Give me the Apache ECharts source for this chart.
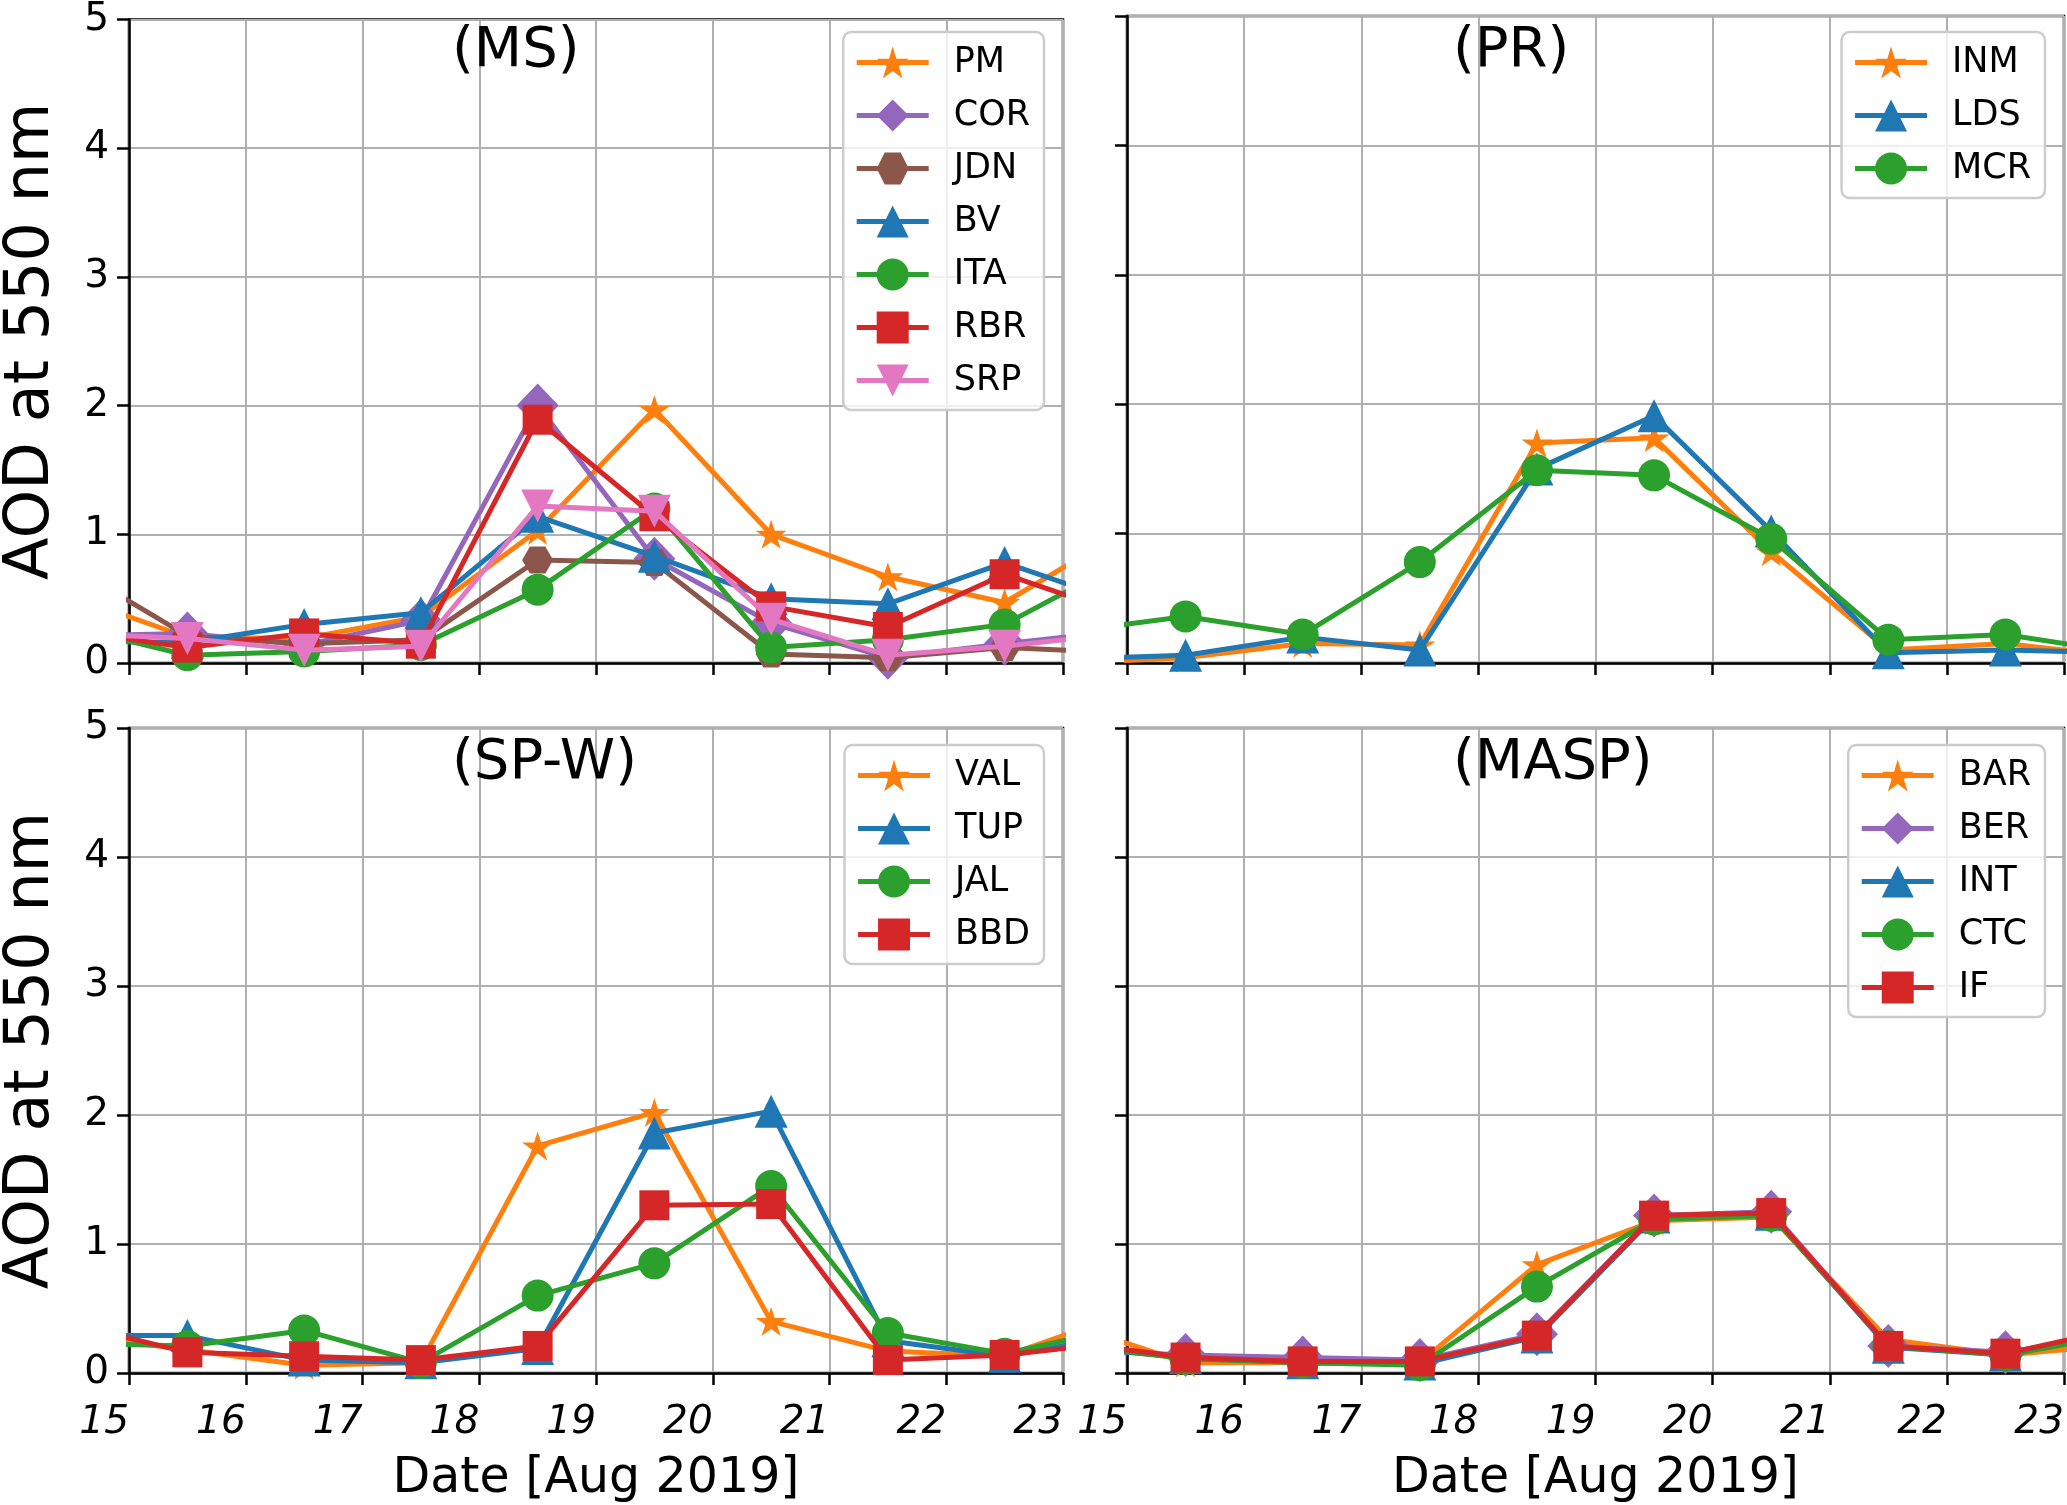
<!DOCTYPE html>
<html>
<head>
<meta charset="utf-8">
<script src="https://cdn.jsdelivr.net/npm/echarts@6/dist/echarts.min.js"></script>
<style>
  html, body { margin: 0; padding: 0; background: #fff; }
  #chart { width: 2067px; height: 1505px; }
</style>
</head>
<body>
<div id="chart"></div>
<script>
// ---------------- DATA ----------------
// Observation days (noon of each day, Aug 2019); first/last points lie just outside the plotted range
const days = [14.5, 15.5, 16.5, 17.5, 18.5, 19.5, 20.5, 21.5, 22.5, 23.5];
const xTickValues = [15, 16, 17, 18, 19, 20, 21, 22, 23];
const yTickValues = [0, 1, 2, 3, 4, 5];

// (MS)
const PM  = [0.52, 0.20, 0.19, 0.36, 1.03, 1.97, 1.00, 0.67, 0.47, 1.01];
const COR = [0.21, 0.23, 0.14, 0.33, 2.00, 0.81, 0.31, 0.04, 0.15, 0.25];
const JDN = [0.75, 0.21, 0.15, 0.18, 0.80, 0.78, 0.07, 0.04, 0.12, 0.08];
const BV  = [0.17, 0.16, 0.30, 0.39, 1.14, 0.83, 0.50, 0.46, 0.78, 0.47];
const ITA = [0.28, 0.06, 0.09, 0.14, 0.57, 1.20, 0.12, 0.18, 0.30, 0.78];
const RBR = [0.25, 0.12, 0.23, 0.15, 1.89, 1.14, 0.44, 0.28, 0.69, 0.38];
const SRP = [0.23, 0.19, 0.10, 0.13, 1.22, 1.18, 0.34, 0.06, 0.13, 0.23];
// (PR)
const INM = [0.00, 0.04, 0.15, 0.14, 1.70, 1.74, 0.86, 0.10, 0.15, 0.05];
const LDS = [0.03, 0.06, 0.20, 0.10, 1.50, 1.91, 1.02, 0.08, 0.10, 0.08];
const MCR = [0.24, 0.36, 0.22, 0.78, 1.49, 1.45, 0.96, 0.18, 0.22, 0.08];
// (SP-W)
const VAL = [0.30, 0.18, 0.06, 0.08, 1.76, 2.02, 0.40, 0.17, 0.13, 0.45];
const TUP = [0.29, 0.29, 0.10, 0.08, 0.19, 1.86, 2.03, 0.25, 0.13, 0.29];
const JAL = [0.23, 0.21, 0.33, 0.08, 0.60, 0.85, 1.45, 0.31, 0.15, 0.35];
const BBD = [0.38, 0.16, 0.13, 0.10, 0.21, 1.30, 1.31, 0.10, 0.14, 0.24];
// (MASP)
const BAR = [0.38, 0.08, 0.08, 0.08, 0.84, 1.18, 1.21, 0.26, 0.14, 0.22];
const BER = [0.18, 0.14, 0.12, 0.10, 0.30, 1.22, 1.25, 0.21, 0.16, 0.30];
const INT = [0.20, 0.12, 0.08, 0.07, 0.28, 1.21, 1.23, 0.20, 0.14, 0.32];
const CTC = [0.22, 0.11, 0.08, 0.06, 0.67, 1.19, 1.22, 0.21, 0.14, 0.30];
const IF  = [0.24, 0.12, 0.09, 0.09, 0.29, 1.22, 1.24, 0.21, 0.15, 0.35];

const panelTitles = ['(MS)', '(PR)', '(SP-W)', '(MASP)'];
const panelStations = [
  ['PM', 'COR', 'JDN', 'BV', 'ITA', 'RBR', 'SRP'],
  ['INM', 'LDS', 'MCR'],
  ['VAL', 'TUP', 'JAL', 'BBD'],
  ['BAR', 'BER', 'INT', 'CTC', 'IF']
];
const values = { PM, COR, JDN, BV, ITA, RBR, SRP, INM, LDS, MCR, VAL, TUP, JAL, BBD, BAR, BER, INT, CTC, IF };

// ---------------- STYLE ----------------
const C = { orange: '#ff7f0e', purple: '#9467bd', brown: '#8c564b', blue: '#1f77b4', green: '#2ca02c', red: '#d62728', pink: '#e377c2' };
const MARK = {
  star:    { symbol: 'path://M100,0L122,69L195,69L136,112L159,181L100,138L41,181L64,112L5,69L78,69Z', size: [31, 29], rot: 0 },
  diamond: { symbol: 'diamond', size: [42, 44], rot: 0 },
  hexagon: { symbol: 'path://M0,87L50,0L150,0L200,87L150,173L50,173Z', size: [31, 27], rot: 0 },
  tri:     { symbol: 'triangle', size: 33, rot: 0 },
  circle:  { symbol: 'circle', size: 32, rot: 0 },
  square:  { symbol: 'rect', size: 30, rot: 0 },
  down:    { symbol: 'triangle', size: 33, rot: 180 }
};
const styleOf = {
  PM: [C.orange, 'star'], COR: [C.purple, 'diamond'], JDN: [C.brown, 'hexagon'], BV: [C.blue, 'tri'],
  ITA: [C.green, 'circle'], RBR: [C.red, 'square'], SRP: [C.pink, 'down'],
  INM: [C.orange, 'star'], LDS: [C.blue, 'tri'], MCR: [C.green, 'circle'],
  VAL: [C.orange, 'star'], TUP: [C.blue, 'tri'], JAL: [C.green, 'circle'], BBD: [C.red, 'square'],
  BAR: [C.orange, 'star'], BER: [C.purple, 'diamond'], INT: [C.blue, 'tri'], CTC: [C.green, 'circle'], IF: [C.red, 'square']
};

const FONT = 'DejaVu Sans';
const LW = 5;
const gridPos = [
  { left: 126, top: 16, width: 937, height: 647 },
  { left: 1127, top: 16, width: 937, height: 647 },
  { left: 126, top: 728, width: 937, height: 647 },
  { left: 1127, top: 728, width: 937, height: 647 }
];
const titlePos = [[452, 23], [1453, 23], [452, 735], [1453, 735]];
const legendPos = [[1023, 32], [22, 32], [1023, 745], [22, 745]];

const grids = [], xAxes = [], yAxes = [], series = [], titles = [], legends = [];
for (let p = 0; p < 4; p++) {
  const isBottom = p >= 2, isLeft = p % 2 === 0;
  grids.push(Object.assign({ show: true, borderColor: '#000', borderWidth: 2.5, backgroundColor: 'transparent', containLabel: false }, gridPos[p]));
  xAxes.push({
    type: 'value', gridIndex: p, min: xTickValues[0], max: xTickValues[xTickValues.length - 1], interval: 1,
    axisLine: { show: true, onZero: false, lineStyle: { color: '#000', width: 2.5 } },
    axisTick: { show: true, length: 12, lineStyle: { color: '#000', width: 2.5 } },
    splitLine: { show: true, lineStyle: { color: '#b0b0b0', width: 2 } },
    axisLabel: {
      show: isBottom, fontFamily: FONT, fontSize: 39, fontStyle: 'italic', color: '#000',
      margin: 30, align: 'right', padding: [0, 0, 0, 0],
      showMinLabel: true, showMaxLabel: true
    },
    name: isBottom ? 'Date [Aug 2019]' : '', nameLocation: 'middle', nameGap: 82,
    nameTextStyle: { fontFamily: FONT, fontSize: 49, color: '#000' }
  });
  yAxes.push({
    type: 'value', gridIndex: p, min: yTickValues[0], max: yTickValues[yTickValues.length - 1], interval: 1,
    axisLine: { show: true, lineStyle: { color: '#000', width: 2.5 } },
    axisTick: { show: true, length: 12, lineStyle: { color: '#000', width: 2.5 } },
    splitLine: { show: true, lineStyle: { color: '#b0b0b0', width: 2 } },
    axisLabel: { show: isLeft, fontFamily: FONT, fontSize: 39, color: '#000', margin: 20 },
    name: isLeft ? 'AOD at 550 nm' : '', nameLocation: 'middle', nameGap: 66,
    nameTextStyle: { fontFamily: FONT, fontSize: 62, color: '#000' }
  });
  titles.push({
    text: panelTitles[p], left: titlePos[p][0], top: titlePos[p][1], padding: 0,
    textStyle: { fontFamily: FONT, fontSize: 56, fontWeight: 'normal', color: '#000' }
  });
  legends.push({
    data: panelStations[p], orient: 'vertical', right: legendPos[p][0], top: legendPos[p][1],
    itemWidth: 72, itemHeight: 40, itemGap: 18, padding: [13, 14, 12, 11],
    backgroundColor: 'rgba(255,255,255,0.8)', borderColor: '#cccccc', borderWidth: 2.5, borderRadius: 8,
    selectedMode: false,
    lineStyle: { width: LW },
    textStyle: { fontFamily: FONT, fontSize: 35, color: '#000', padding: [0, 0, 0, 20] }
  });
  panelStations[p].forEach((st, k) => {
    const [col, mk] = styleOf[st];
    const m = MARK[mk];
    series.push({
      type: 'line', name: st, xAxisIndex: p, yAxisIndex: p,
      data: days.map((d, i) => [d, values[st][i]]),
      symbol: m.symbol, symbolSize: m.size, symbolRotate: m.rot, showAllSymbol: true,
      lineStyle: { color: col, width: LW }, itemStyle: { color: col, borderWidth: 0 },
      clip: true, animation: false, z: 2 + k * 0.01
    });
  });
}

const chart = echarts.init(document.getElementById('chart'), null, { renderer: 'canvas' });
chart.setOption({
  backgroundColor: '#ffffff', animation: false,
  title: titles, legend: legends, grid: grids, xAxis: xAxes, yAxis: yAxes, series: series
});
</script>
</body>
</html>
